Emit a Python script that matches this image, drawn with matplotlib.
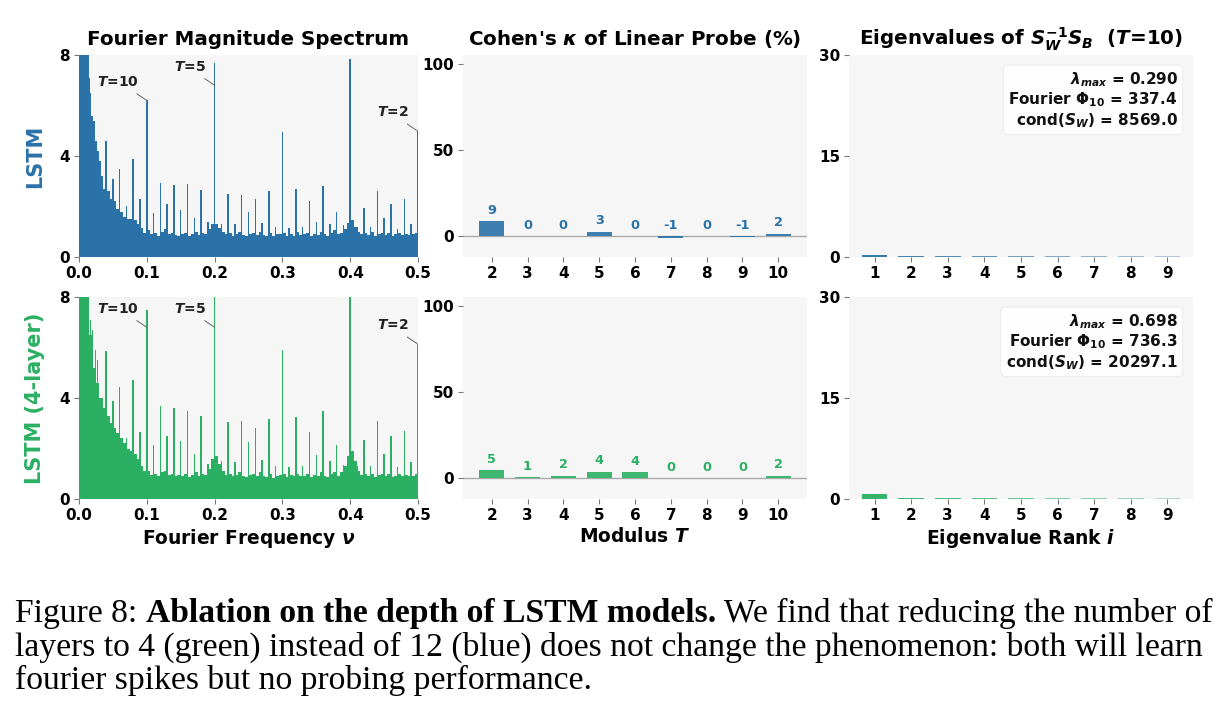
import numpy as np
import matplotlib
matplotlib.use("Agg")
import matplotlib.pyplot as plt

plt.rcParams['font.family'] = ['DejaVu Sans']
plt.rcParams['font.weight'] = 'bold'
plt.rcParams['mathtext.fontset'] = 'custom'
plt.rcParams['mathtext.rm'] = 'DejaVu Sans:bold'
plt.rcParams['mathtext.it'] = 'DejaVu Sans:italic:bold'
plt.rcParams['mathtext.bf'] = 'DejaVu Sans:bold'
plt.rcParams['mathtext.sf'] = 'DejaVu Sans:bold'

# ---------------- data ----------------
rows = ["LSTM", "LSTM (4-layer)"]
row_colors = ["#2a72a8", "#2bb063"]

floor_step = 0.005
floor_lstm = [12.0, 11.0, 8.6, 5.6, 4.6, 3.7, 3.2, 2.7, 2.6, 2.3,
              2.2, 1.9, 1.8, 1.6, 1.5, 1.5, 1.45, 1.3, 1.15, 0.95,
              1.05, 0.9, 0.95, 0.85, 1.0, 1.1, 0.9, 0.95, 0.88, 0.85,
              0.92, 0.97, 0.85, 0.9, 1.0, 0.86, 0.95, 0.9, 1.1, 1.3,
              1.3, 1.15, 1.0, 0.9, 0.95, 0.85, 0.92, 1.0, 0.88, 0.85,
              0.9, 0.97, 0.86, 1.0, 0.88, 0.85, 0.95, 0.82, 0.9, 0.92,
              0.95, 0.85, 0.9, 0.85, 0.98, 0.87, 0.9, 0.95, 0.85, 0.9,
              0.88, 1.0, 0.9, 0.85, 0.95, 1.05, 0.9, 0.95, 1.1, 1.35,
              1.45, 1.2, 1.0, 0.9, 0.95, 0.88, 1.0, 0.85, 0.9, 0.95,
              0.88, 0.95, 0.85, 0.9, 0.95, 0.86, 0.92, 0.88, 0.9, 0.95]
floor_lstm4 = [12.0, 11.0, 10.0, 6.5, 5.2, 4.6, 4.0, 3.6, 3.3, 3.0,
               2.8, 2.6, 2.4, 2.2, 2.0, 1.9, 1.8, 1.6, 1.3, 1.1,
               1.1, 0.95, 1.0, 0.9, 1.05, 1.1, 0.95, 1.0, 0.9, 0.95,
               0.9, 1.0, 0.88, 0.95, 1.05, 0.9, 1.0, 0.95, 1.2, 1.6,
               1.7, 1.4, 1.1, 0.95, 1.0, 0.9, 0.95, 1.05, 0.9, 0.88,
               0.95, 1.0, 0.9, 1.05, 0.9, 0.88, 1.0, 0.85, 0.92, 0.95,
               1.0, 0.88, 0.95, 0.9, 1.0, 0.9, 0.92, 1.0, 0.88, 0.95,
               0.9, 1.05, 0.92, 0.88, 1.0, 1.05, 0.92, 1.05, 1.3, 1.7,
               1.9, 1.5, 1.1, 0.95, 1.0, 0.9, 1.0, 0.88, 0.95, 1.0,
               0.9, 1.0, 0.88, 0.92, 1.0, 0.9, 0.95, 0.9, 0.92, 1.0]

spike_freq_lstm = [0.015, 0.017, 0.022, 0.025, 0.028, 0.031, 0.04, 0.05, 0.06, 0.07,
                   0.08, 0.09, 0.10, 0.11, 0.12, 0.13, 0.14, 0.15, 0.16, 0.17,
                   0.18, 0.19, 0.20, 0.21, 0.22, 0.23, 0.24, 0.25, 0.26, 0.27,
                   0.28, 0.29, 0.30, 0.31, 0.32, 0.33, 0.34, 0.35, 0.36, 0.37,
                   0.38, 0.39, 0.40, 0.41, 0.42, 0.43, 0.44, 0.45, 0.46, 0.47,
                   0.48, 0.49, 0.50]
spike_mag_lstm = [7.1, 6.5, 5.4, 4.6, 4.2, 3.8, 4.6, 3.1, 3.5, 2.0,
                  3.9, 2.3, 6.2, 1.75, 2.95, 2.1, 2.85, 1.85, 2.9, 1.55,
                  2.65, 1.4, 7.7, 1.3, 2.5, 1.3, 2.45, 1.8, 2.3, 1.35,
                  2.6, 1.2, 4.95, 1.15, 2.7, 1.2, 2.2, 1.4, 2.8, 1.3,
                  1.8, 1.25, 7.85, 1.2, 1.95, 1.2, 2.6, 1.55, 2.1, 1.1,
                  2.3, 1.3, 5.0]
spike_freq_lstm4 = [0.017, 0.020, 0.024, 0.0275, 0.04, 0.05, 0.06, 0.07, 0.08, 0.09,
                    0.10, 0.11, 0.12, 0.13, 0.14, 0.15, 0.16, 0.17, 0.18, 0.19,
                    0.20, 0.21, 0.22, 0.23, 0.24, 0.25, 0.26, 0.27, 0.28, 0.29,
                    0.30, 0.31, 0.32, 0.33, 0.34, 0.35, 0.36, 0.37, 0.38, 0.39,
                    0.40, 0.41, 0.42, 0.43, 0.44, 0.45, 0.46, 0.47, 0.48, 0.49,
                    0.50]
spike_mag_lstm4 = [7.1, 6.7, 5.9, 5.5, 5.85, 3.9, 4.45, 2.4, 4.7, 2.65,
                   7.5, 2.15, 3.7, 2.5, 3.6, 2.3, 3.5, 1.8, 3.3, 1.4,
                   9.5, 1.5, 3.05, 1.45, 3.1, 2.25, 2.8, 1.55, 3.15, 1.3,
                   5.9, 1.25, 3.25, 1.3, 2.65, 1.75, 3.5, 1.5, 2.15, 1.35,
                   9.5, 1.3, 2.35, 1.3, 3.1, 1.8, 2.5, 1.25, 2.7, 1.45,
                   6.15]

annot_periods = [10, 5, 2]

moduli = [2, 3, 4, 5, 6, 7, 8, 9, 10]
kappa_lstm = [8.7, 0.2, 0.1, 2.6, 0.1, -0.8, 0.0, -0.6, 1.6]
kappa_lstm4 = [4.8, 0.8, 1.5, 3.9, 3.7, 0.1, 0.0, 0.1, 1.6]

ranks = [1, 2, 3, 4, 5, 6, 7, 8, 9]
eig_lstm = [0.290, 0.22, 0.20, 0.18, 0.16, 0.15, 0.13, 0.12, 0.10]
eig_lstm4 = [0.698, 0.20, 0.18, 0.16, 0.15, 0.13, 0.12, 0.11, 0.10]
stats_lstm = {"lam": 0.290, "phi": 337.4, "cond": 8569.0}
stats_lstm4 = {"lam": 0.698, "phi": 736.3, "cond": 20297.1}

floors = [floor_lstm, floor_lstm4]
spikes = [(spike_freq_lstm, spike_mag_lstm), (spike_freq_lstm4, spike_mag_lstm4)]
kappas = [kappa_lstm, kappa_lstm4]
eigs = [eig_lstm, eig_lstm4]
stats = [stats_lstm, stats_lstm4]

# ---------------- layout ----------------
W, H = 1218, 710
fig = plt.figure(figsize=(W / 100, H / 100), dpi=100)
BG = "#f6f6f6"
cols_px = [(79, 418), (463, 807), (849, 1193)]
rows_px = [(55, 257), (297, 499)]

TICK_FS = 11
TITLE_FS = 14.3
XLAB_FS = 13.4
SPIKE_W = 0.0022


def make_ax(r, c):
    x0, x1 = cols_px[c]
    y0, y1 = rows_px[r]
    ax = fig.add_axes([x0 / W, 1 - y1 / H, (x1 - x0) / W, (y1 - y0) / H])
    ax.set_facecolor(BG)
    for s in ax.spines.values():
        s.set_visible(False)
    ax.tick_params(length=3.5, width=0.8, color="#777777", labelsize=TICK_FS, pad=3)
    return ax


for r in range(2):
    color = row_colors[r]
    # ---- spectrum ----
    ax = make_ax(r, 0)
    fl = floors[r]
    fx = np.arange(len(fl)) * floor_step
    ax.bar(fx, fl, width=floor_step, align='edge', color=color, linewidth=0)
    sf, sm = spikes[r]
    sx = np.minimum(np.array(sf), 0.5 - SPIKE_W / 2)
    ax.bar(sx, sm, width=SPIKE_W, color=color, linewidth=0)
    ax.set_xlim(0, 0.5)
    ax.set_ylim(0, 8)
    ax.set_xticks([0.0, 0.1, 0.2, 0.3, 0.4, 0.5])
    ax.set_xticklabels(["0.0", "0.1", "0.2", "0.3", "0.4", "0.5"], fontweight='bold')
    ax.set_yticks([0, 4, 8])
    ax.set_yticklabels(["0", "4", "8"], fontweight='bold')
    for T in annot_periods:
        f = 1.0 / T
        idx = int(np.argmin(np.abs(np.array(sf) - f)))
        yv = min(sm[idx], 0.85 * 8)
        xv = sx[idx]
        ax.annotate("", xy=(xv, yv), xytext=(-10, 6.7), textcoords='offset pixels',
                    arrowprops=dict(arrowstyle='-', color="#666666", lw=0.7, shrinkA=0, shrinkB=0))
        ax.annotate(r"$T$=%d" % T, xy=(xv, yv), xytext=(-8.5, 14.7), textcoords='offset pixels',
                    ha='right', va='baseline', fontsize=10, fontweight='bold', color="#222222")
    if r == 0:
        ax.set_title("Fourier Magnitude Spectrum", fontsize=TITLE_FS, fontweight='bold', pad=7)
    else:
        ax.set_xlabel(r"Fourier Frequency $\nu$", fontsize=XLAB_FS, fontweight='bold', labelpad=3)

    # ---- kappa ----
    ax = make_ax(r, 1)
    kv = kappas[r]
    ax.bar(moduli, kv, width=0.7, color=color, alpha=0.9, linewidth=0)
    ax.axhline(0, color="#aaaaaa", lw=1.0, zorder=0.5)
    for m, v in zip(moduli, kv):
        ax.text(m, max(v, 0) + 2.5, "%d" % round(v), ha='center', va='bottom',
                fontsize=9.3, fontweight='bold', color=color)
    ax.set_xlim(1.2, 10.8)
    ax.set_ylim(-12, 105)
    ax.set_xticks(moduli)
    ax.set_xticklabels([str(m) for m in moduli], fontweight='bold')
    ax.set_yticks([0, 50, 100])
    ax.set_yticklabels(["0", "50", "100"], fontweight='bold')
    if r == 0:
        ax.set_title(r"Cohen's $\kappa$ of Linear Probe (%)", fontsize=TITLE_FS, fontweight='bold', pad=7)
    else:
        ax.set_xlabel(r"Modulus $T$", fontsize=XLAB_FS, fontweight='bold', labelpad=3)

    # ---- eigenvalues ----
    ax = make_ax(r, 2)
    ev = eigs[r]
    alphas = np.linspace(0.95, 0.35, len(ev))
    for k, v, a in zip(ranks, ev, alphas):
        ax.bar([k], [v], width=0.7, color=color, alpha=a, linewidth=0)
    ax.set_xlim(0.3, 9.7)
    ax.set_ylim(0, 30)
    ax.set_xticks(ranks)
    ax.set_xticklabels([str(k) for k in ranks], fontweight='bold')
    ax.set_yticks([0, 15, 30])
    ax.set_yticklabels(["0", "15", "30"], fontweight='bold')
    st = stats[r]
    txt = (r"$\lambda_{max}$ = %.3f" % st["lam"] + "\n" +
           r"Fourier $\Phi_{10}$ = %.1f" % st["phi"] + "\n" +
           r"cond($S_W$) = %.1f" % st["cond"])
    ax.text(0.955, 0.925, txt, transform=ax.transAxes, ha='right', va='top', multialignment='right',
            fontsize=11, fontweight='bold', color="#111111", linespacing=1.12,
            bbox=dict(boxstyle='round,pad=0.33', fc='white', ec='#eeeeee', alpha=0.9))
    if r == 0:
        ax.set_title(r"Eigenvalues of $S_W^{-1}S_B$  ($T$=10)", fontsize=TITLE_FS, fontweight='bold', pad=7)
    else:
        ax.set_xlabel(r"Eigenvalue Rank $i$", fontsize=XLAB_FS, fontweight='bold', labelpad=3)

    # row label
    yc = (rows_px[r][0] + rows_px[r][1]) / 2
    fig.text(35 / W, 1 - yc / H, rows[r], rotation=90, ha='center', va='center',
             fontsize=15, fontweight='bold', color=color)

# ---------------- caption ----------------
cap_font = ['Liberation Serif', 'DejaVu Serif']
renderer = fig.canvas.get_renderer()
line2 = "layers to 4 (green) instead of 12 (blue) does not change the phenomenon: both will learn"
probe = fig.text(0, 0, line2, fontsize=20, family=cap_font, fontweight='normal')
wpx = probe.get_window_extent(renderer).width
probe.remove()
cap_fs = 20 * (1188.0 / wpx)

x_left = 15
base_y = [622, 656, 689]
pieces1 = [("Figure 8: ", 'normal'), ("Ablation on the depth of LSTM models.", 'bold'),
           (" We find that reducing the number of", 'normal')]
x = x_left
for s, wgt in pieces1:
    t = fig.text(x / W, 1 - base_y[0] / H, s, fontsize=cap_fs, family=cap_font,
                 fontweight=wgt, va='baseline', ha='left')
    x += t.get_window_extent(renderer).width
fig.text(x_left / W, 1 - base_y[1] / H, line2, fontsize=cap_fs, family=cap_font,
         fontweight='normal', va='baseline', ha='left')
fig.text(x_left / W, 1 - base_y[2] / H, "fourier spikes but no probing performance.",
         fontsize=cap_fs, family=cap_font, fontweight='normal', va='baseline', ha='left')

fig.savefig("out.png", dpi=100, facecolor='white')
